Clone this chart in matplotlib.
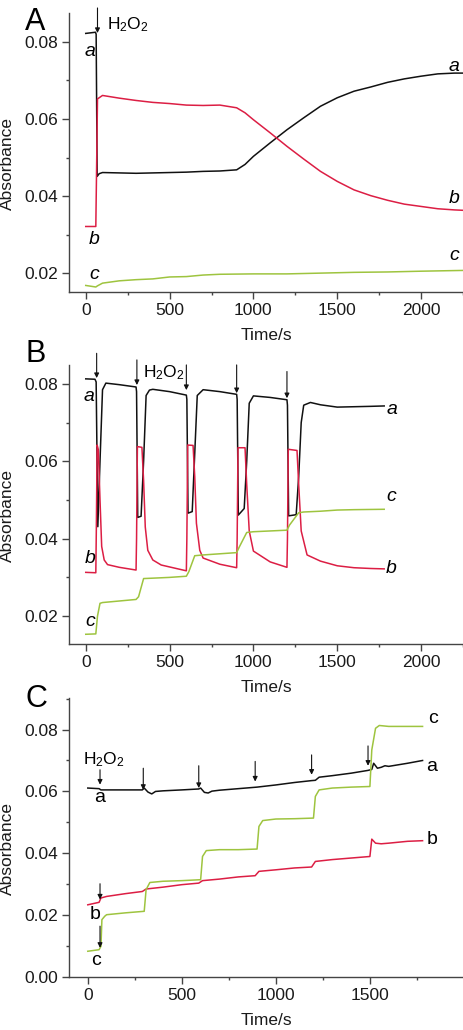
import matplotlib
matplotlib.use("Agg")
import matplotlib.pyplot as plt
from matplotlib.ticker import MultipleLocator, FormatStrFormatter

plt.rcParams['font.family'] = ['Liberation Sans', 'DejaVu Sans']
plt.rcParams['mathtext.fontset'] = 'custom'
plt.rcParams['mathtext.rm'] = 'Liberation Sans'
plt.rcParams['mathtext.it'] = 'Liberation Sans:italic'

BLACK = '#111111'
RED = '#dc1e44'
GREEN = '#9ec43f'
AXCOL = '#444444'

# ---- panel A data (time in s, absorbance)
A_a_t = [0, 58, 62, 68, 80, 100, 200, 300, 400, 500, 600, 700, 800, 900, 950, 1000, 1100,
         1200, 1300, 1400, 1500, 1600, 1700, 1800, 1900, 2000, 2100, 2200, 2250]
A_a_v = [0.0822, 0.0825, 0.0820, 0.0451, 0.0458, 0.0461, 0.0460, 0.0459, 0.0460, 0.0461,
         0.0462, 0.0464, 0.0465, 0.0468, 0.0482, 0.0503, 0.0538, 0.0572, 0.0603, 0.0633,
         0.0655, 0.0672, 0.0683, 0.0695, 0.0704, 0.0711, 0.0717, 0.0719, 0.0719]
A_b_t = [0, 60, 64, 70, 100, 200, 300, 400, 500, 600, 700, 800, 900, 950, 1000, 1100, 1200,
         1300, 1400, 1500, 1600, 1700, 1800, 1900, 2000, 2100, 2200, 2250]
A_b_v = [0.0321, 0.0321, 0.0450, 0.0652, 0.0661, 0.0654, 0.0648, 0.0643, 0.0640, 0.0636,
         0.0635, 0.0636, 0.0629, 0.0616, 0.0598, 0.0564, 0.0529, 0.0496, 0.0464, 0.0438,
         0.0416, 0.0401, 0.0389, 0.0379, 0.0373, 0.0367, 0.0364, 0.0363]
A_c_t = [0, 30, 60, 70, 100, 200, 300, 400, 500, 600, 700, 800, 1000, 1200, 1400, 1600,
         1800, 2000, 2250]
A_c_v = [0.0168, 0.0166, 0.0164, 0.0167, 0.0174, 0.0180, 0.0183, 0.0185, 0.0190, 0.0191,
         0.0195, 0.0197, 0.0198, 0.0198, 0.0200, 0.0202, 0.0203, 0.0205, 0.0207]

# ---- panel B data
B_a_t = [0, 55, 62, 72, 85, 100, 120, 200, 300, 303, 310, 330, 345, 360, 380, 400, 500,
         600, 603, 610, 635, 650, 665, 700, 800, 900, 903, 910, 945, 960, 975, 1000, 1100,
         1200, 1203, 1210, 1255, 1270, 1285, 1300, 1340, 1400, 1500, 1600, 1700, 1780]
B_a_v = [0.0813, 0.0812, 0.0805, 0.0431, 0.0600, 0.0785, 0.0802, 0.0798, 0.0792, 0.0780,
         0.0455, 0.0458, 0.0600, 0.0770, 0.0784, 0.0786, 0.0780, 0.0771, 0.0760, 0.0466,
         0.0470, 0.0620, 0.0770, 0.0785, 0.0780, 0.0773, 0.0760, 0.0461, 0.0478, 0.0600,
         0.0750, 0.0769, 0.0765, 0.0759, 0.0745, 0.0459, 0.0462, 0.0560, 0.0700, 0.0745,
         0.0752, 0.0746, 0.0740, 0.0741, 0.0742, 0.0743]
B_b_t = [0, 60, 63, 68, 75, 85, 95, 110, 130, 200, 300, 303, 308, 335, 345, 355, 370, 400,
         450, 600, 603, 608, 640, 650, 660, 680, 700, 800, 900, 903, 908, 950, 960, 975,
         1000, 1100, 1200, 1203, 1208, 1260, 1270, 1285, 1320, 1400, 1500, 1600, 1700, 1780]
B_b_v = [0.0313, 0.0312, 0.0420, 0.0642, 0.0630, 0.0500, 0.0380, 0.0345, 0.0333, 0.0326,
         0.0319, 0.0400, 0.0638, 0.0636, 0.0550, 0.0430, 0.0370, 0.0345, 0.0332, 0.0317,
         0.0400, 0.0642, 0.0641, 0.0560, 0.0440, 0.0370, 0.0350, 0.0334, 0.0325, 0.0400,
         0.0635, 0.0635, 0.0540, 0.0420, 0.0368, 0.0340, 0.0326, 0.0400, 0.0631, 0.0628,
         0.0540, 0.0420, 0.0358, 0.0342, 0.0330, 0.0325, 0.0323, 0.0322]
B_c_t = [0, 60, 70, 85, 100, 200, 300, 315, 345, 400, 500, 600, 615, 650, 700, 800, 900,
         915, 960, 1000, 1100, 1200, 1215, 1270, 1300, 1400, 1500, 1600, 1780]
B_c_v = [0.0153, 0.0154, 0.0200, 0.0233, 0.0235, 0.0239, 0.0243, 0.0250, 0.0297, 0.0298,
         0.0300, 0.0303, 0.0315, 0.0356, 0.0358, 0.0361, 0.0364, 0.0378, 0.0416, 0.0418,
         0.0420, 0.0422, 0.0435, 0.0467, 0.0469, 0.0471, 0.0474, 0.0475, 0.0476]

# ---- panel C data
C_a_t = [0, 60, 70, 100, 200, 290, 300, 320, 340, 360, 400, 500, 590, 600, 620, 640, 660,
         700, 800, 900, 1000, 1100, 1190, 1210, 1230, 1300, 1400, 1490, 1510, 1520, 1540,
         1560, 1580, 1600, 1700, 1780]
C_a_v = [0.0611, 0.0609, 0.0605, 0.0605, 0.0605, 0.0605, 0.0611, 0.0598, 0.0592, 0.0600,
         0.0602, 0.0605, 0.0608, 0.0611, 0.0597, 0.0595, 0.0601, 0.0604, 0.0609, 0.0614,
         0.0621, 0.0629, 0.0635, 0.0636, 0.0646, 0.0651, 0.0659, 0.0668, 0.0671, 0.0691,
         0.0675, 0.0678, 0.0683, 0.0681, 0.0691, 0.0700]
C_b_t = [0, 60, 70, 100, 200, 290, 310, 400, 500, 590, 610, 700, 800, 890, 910, 1000, 1100,
         1190, 1210, 1300, 1400, 1500, 1510, 1530, 1560, 1600, 1700, 1780]
C_b_v = [0.0234, 0.0242, 0.0256, 0.0261, 0.0270, 0.0277, 0.0285, 0.0291, 0.0299, 0.0304,
         0.0312, 0.0317, 0.0324, 0.0328, 0.0342, 0.0347, 0.0353, 0.0356, 0.0374, 0.0380,
         0.0385, 0.0390, 0.0446, 0.0433, 0.0431, 0.0433, 0.0439, 0.0441]
C_c_t = [0, 60, 70, 75, 90, 100, 200, 300, 310, 330, 400, 500, 600, 610, 630, 700, 800,
         900, 910, 930, 1000, 1100, 1200, 1210, 1230, 1300, 1400, 1500, 1510, 1530, 1550,
         1600, 1700, 1780]
C_c_v = [0.0084, 0.0089, 0.0100, 0.0186, 0.0197, 0.0202, 0.0208, 0.0213, 0.0283, 0.0306,
         0.0310, 0.0312, 0.0315, 0.0390, 0.0409, 0.0412, 0.0412, 0.0414, 0.0487, 0.0506,
         0.0511, 0.0512, 0.0514, 0.0584, 0.0605, 0.0611, 0.0614, 0.0616, 0.0734, 0.0804,
         0.0813, 0.0810, 0.0810, 0.0810]

# H2O2 addition arrows: time, arrow top, arrow tip
A_arrow_t, A_arrow_top, A_arrow_tip = [70], [0.0888], [0.0823]
B_arrow_t = [65, 305, 600, 900, 1200]
B_arrow_top = [0.0879, 0.0862, 0.0849, 0.0849, 0.0832]
B_arrow_tip = [0.0815, 0.0797, 0.0784, 0.0776, 0.0763]
C_arrow_t = [65, 295, 590, 890, 1190, 1490, 65, 65]
C_arrow_top = [0.0670, 0.0675, 0.0683, 0.0697, 0.0718, 0.0747, 0.0302, 0.0165]
C_arrow_tip = [0.0622, 0.0605, 0.0611, 0.0632, 0.0654, 0.0683, 0.0251, 0.0095]

fig = plt.figure(figsize=(4.63, 10.30), dpi=100)
axA = fig.add_axes([0.149, 0.7165, 0.851, 0.2709])
axB = fig.add_axes([0.149, 0.3748, 0.851, 0.2709])
axC = fig.add_axes([0.149, 0.0512, 0.851, 0.2712])


def style(ax, xlim, ylim):
    ax.set_xlim(*xlim)
    ax.set_ylim(*ylim)
    for s in ['top', 'right']:
        ax.spines[s].set_visible(False)
    for s in ['left', 'bottom']:
        ax.spines[s].set_color(AXCOL)
        ax.spines[s].set_linewidth(1.0)
    ax.xaxis.set_major_locator(MultipleLocator(500))
    ax.xaxis.set_minor_locator(MultipleLocator(250))
    ax.yaxis.set_major_locator(MultipleLocator(0.02))
    ax.yaxis.set_minor_locator(MultipleLocator(0.01))
    ax.yaxis.set_major_formatter(FormatStrFormatter('%.2f'))
    ax.tick_params(which='major', length=5, width=1.0, color=AXCOL, labelsize=12.5,
                   labelcolor='#1a1a1a', pad=3)
    ax.tick_params(which='minor', length=2.5, width=1.0, color=AXCOL)
    ax.set_xlabel('Time/s', fontsize=12.5, color='#1a1a1a')
    ax.set_ylabel('Absorbance', fontsize=12.5, color='#1a1a1a')
    ax.xaxis.set_label_coords(0.5, -0.155)
    ax.xaxis.label.set_va('center')
    ax.yaxis.set_label_coords(-0.155, 0.46)
    ax.yaxis.label.set_va('center')


def arrows(ax, ts, tops, tips):
    for t, top, tip in zip(ts, tops, tips):
        ax.annotate('', xy=(t, tip), xytext=(t, top), annotation_clip=False,
                    arrowprops=dict(arrowstyle='-|>', color='#111111', lw=0.8,
                                    mutation_scale=7, shrinkA=0, shrinkB=0))


lw = 1.1
# Panel A
style(axA, (-100, 2250), (0.0151, 0.0875))
axA.plot(A_a_t, A_a_v, color=BLACK, lw=lw)
axA.plot(A_b_t, A_b_v, color=RED, lw=lw)
axA.plot(A_c_t, A_c_v, color=GREEN, lw=lw)
arrows(axA, A_arrow_t, A_arrow_top, A_arrow_tip)
axA.text(125, 0.0844, 'H$_2$O$_2$', fontsize=12.5, va='center', ha='left', clip_on=False)
for s, x, y in [('a', 24, 0.0774), ('b', 50, 0.0286), ('c', 50, 0.0197),
                ('a', 2196, 0.0736), ('b', 2196, 0.0394), ('c', 2196, 0.0247)]:
    axA.text(x, y, s, fontsize=14, style='italic', ha='center', va='center')

# Panel B
style(axB, (-100, 2250), (0.0128, 0.0849))
axB.plot(B_a_t, B_a_v, color=BLACK, lw=lw)
axB.plot(B_b_t, B_b_v, color=RED, lw=lw)
axB.plot(B_c_t, B_c_v, color=GREEN, lw=lw)
arrows(axB, B_arrow_t, B_arrow_top, B_arrow_tip)
axB.text(340, 0.0828, 'H$_2$O$_2$', fontsize=12.5, va='center', ha='left')
for s, x, y in [('a', 20, 0.0767), ('b', 28, 0.0349), ('c', 28, 0.0185),
                ('a', 1824, 0.0733), ('c', 1824, 0.0508), ('b', 1824, 0.0323)]:
    axB.text(x, y, s, fontsize=14, style='italic', ha='center', va='center')

# Panel C
style(axC, (-100, 1995), (0.0, 0.0902))
axC.plot(C_a_t, C_a_v, color=BLACK, lw=lw)
axC.plot(C_b_t, C_b_v, color=RED, lw=lw)
axC.plot(C_c_t, C_c_v, color=GREEN, lw=lw)
arrows(axC, C_arrow_t, C_arrow_top, C_arrow_tip)
axC.text(-25, 0.0702, 'H$_2$O$_2$', fontsize=12.5, va='center', ha='left')
for s, x, y in [('a', 64, 0.0582), ('b', 37, 0.0202), ('c', 41, 0.0055),
                ('c', 1837, 0.0837), ('a', 1826, 0.0681), ('b', 1832, 0.0446)]:
    axC.text(x, y, s, fontsize=14, ha='center', va='center')

# panel letters, baseline placed
for lab, y in [('A', 0.9709), ('B', 0.6485), ('C', 0.3136)]:
    fig.text(0.054, y, lab, fontsize=22, va='baseline', ha='left')

fig.savefig('out.png', dpi=100)
